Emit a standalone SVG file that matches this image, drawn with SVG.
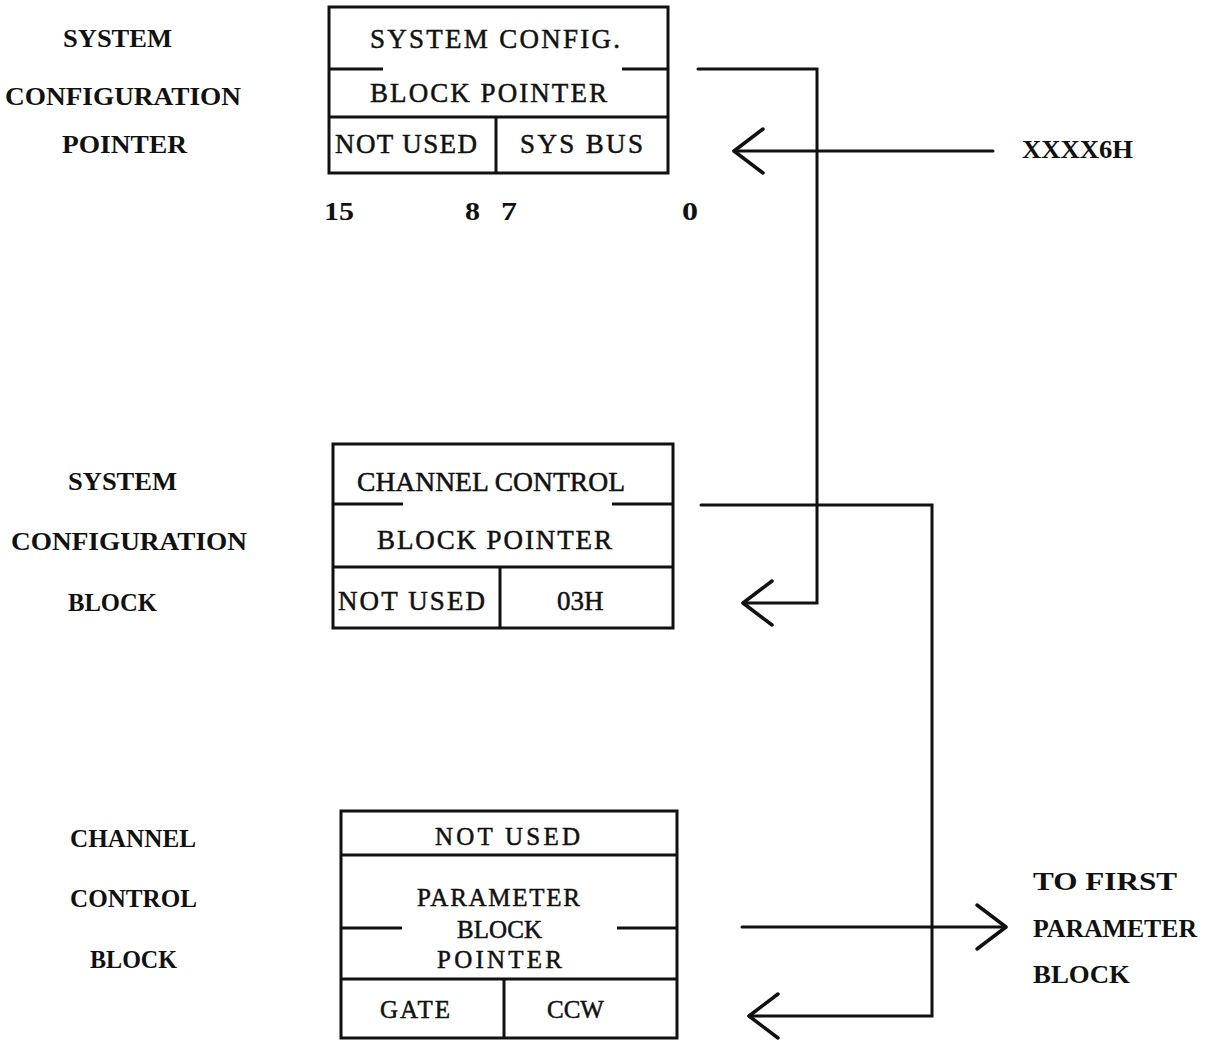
<svg xmlns="http://www.w3.org/2000/svg" width="1207" height="1047" viewBox="0 0 1207 1047">
<style>
.box{fill:none;stroke:#111;stroke-width:3}
.ln{fill:none;stroke:#111;stroke-width:3;stroke-linecap:round;stroke-linejoin:miter}
.bt{font-family:"Liberation Serif","DejaVu Serif",serif;font-size:27px;fill:#111;stroke:#111;stroke-width:0.5}
.bt3{font-family:"Liberation Serif","DejaVu Serif",serif;font-size:25px;fill:#111;stroke:#111;stroke-width:0.5}
.lb{font-family:"Liberation Serif","DejaVu Serif",serif;font-size:26px;font-weight:bold;fill:#111}
</style>
<defs>
<marker id="ah" viewBox="-34 -26 38 52" markerWidth="38" markerHeight="52" refX="0" refY="0" orient="auto" markerUnits="userSpaceOnUse">
<path d="M-29,-22 L0,0 L-29,22" fill="none" stroke="#111" stroke-width="3.5" stroke-linecap="round" stroke-linejoin="round"/>
</marker>
</defs>
<rect width="1207" height="1047" fill="#fff"/>

<g id="labels-left">
<text class="lb" x="63" y="47" textLength="109" lengthAdjust="spacingAndGlyphs">SYSTEM</text>
<text class="lb" x="5" y="105" textLength="236" lengthAdjust="spacingAndGlyphs">CONFIGURATION</text>
<text class="lb" x="62" y="153" textLength="125" lengthAdjust="spacingAndGlyphs">POINTER</text>
<text class="lb" x="68" y="490" textLength="109" lengthAdjust="spacingAndGlyphs">SYSTEM</text>
<text class="lb" x="11" y="550" textLength="236" lengthAdjust="spacingAndGlyphs">CONFIGURATION</text>
<text class="lb" x="68" y="611" textLength="89" lengthAdjust="spacingAndGlyphs">BLOCK</text>
<text class="lb" x="70" y="847" textLength="126" lengthAdjust="spacingAndGlyphs">CHANNEL</text>
<text class="lb" x="70" y="907" textLength="127" lengthAdjust="spacingAndGlyphs">CONTROL</text>
<text class="lb" x="90" y="968" textLength="87" lengthAdjust="spacingAndGlyphs">BLOCK</text>
</g>

<g id="node-scp">
<rect class="box" x="329" y="7" width="339" height="166"/>
<line class="box" x1="329" y1="117" x2="668" y2="117"/>
<line class="box" x1="496" y1="117" x2="496" y2="173"/>
<line class="box" x1="329" y1="69" x2="383" y2="69"/>
<line class="box" x1="622" y1="69" x2="668" y2="69"/>
<text class="bt" x="370" y="48" textLength="250" lengthAdjust="spacing">SYSTEM CONFIG.</text>
<text class="bt" x="370" y="102" textLength="237" lengthAdjust="spacing">BLOCK POINTER</text>
<text class="bt" x="335" y="153" textLength="142" lengthAdjust="spacing">NOT USED</text>
<text class="bt" x="520" y="153" textLength="123" lengthAdjust="spacing">SYS BUS</text>
<text class="lb" x="324" y="220" textLength="30" lengthAdjust="spacingAndGlyphs">15</text>
<text class="lb" x="465" y="220" textLength="15" lengthAdjust="spacingAndGlyphs">8</text>
<text class="lb" x="501" y="220" textLength="16" lengthAdjust="spacingAndGlyphs">7</text>
<text class="lb" x="682" y="220" textLength="16" lengthAdjust="spacingAndGlyphs">0</text>
</g>

<g id="node-scb">
<rect class="box" x="333" y="444" width="340" height="184"/>
<line class="box" x1="333" y1="567" x2="673" y2="567"/>
<line class="box" x1="500" y1="567" x2="500" y2="628"/>
<line class="box" x1="333" y1="504" x2="403" y2="504"/>
<line class="box" x1="612" y1="504" x2="673" y2="504"/>
<text class="bt" x="357" y="491" textLength="268" lengthAdjust="spacingAndGlyphs">CHANNEL CONTROL</text>
<text class="bt" x="377" y="549" textLength="235" lengthAdjust="spacing">BLOCK POINTER</text>
<text class="bt" x="338" y="610" textLength="147" lengthAdjust="spacing">NOT USED</text>
<text class="bt" x="557" y="610">03H</text>
</g>

<g id="node-ccb">
<rect class="box" x="341" y="811" width="336" height="227"/>
<line class="box" x1="341" y1="855" x2="677" y2="855"/>
<line class="box" x1="341" y1="979" x2="677" y2="979"/>
<line class="box" x1="504" y1="979" x2="504" y2="1038"/>
<line class="box" x1="341" y1="928" x2="402" y2="928"/>
<line class="box" x1="617" y1="928" x2="677" y2="928"/>
<text class="bt3" x="435" y="845" textLength="145" lengthAdjust="spacing">NOT USED</text>
<text class="bt3" x="417" y="906" textLength="163" lengthAdjust="spacing">PARAMETER</text>
<text class="bt3" x="457" y="938" textLength="85" lengthAdjust="spacing">BLOCK</text>
<text class="bt3" x="437" y="968" textLength="125" lengthAdjust="spacing">POINTER</text>
<text class="bt3" x="380" y="1018" textLength="70" lengthAdjust="spacing">GATE</text>
<text class="bt3" x="547" y="1018">CCW</text>
</g>

<g id="labels-right">
<text class="lb" x="1022" y="158" textLength="111" lengthAdjust="spacingAndGlyphs">XXXX6H</text>
<text class="lb" x="1033" y="890" textLength="144" lengthAdjust="spacingAndGlyphs">TO FIRST</text>
<text class="lb" x="1033" y="937" textLength="164" lengthAdjust="spacingAndGlyphs">PARAMETER</text>
<text class="lb" x="1033" y="983" textLength="97" lengthAdjust="spacingAndGlyphs">BLOCK</text>
</g>

<g id="connectors">
<path class="ln" d="M698,69 H817 V603 H743" marker-end="url(#ah)"/>
<path class="ln" d="M993,151 H734" marker-end="url(#ah)"/>
<path class="ln" d="M701,505 H932 V1016 H749" marker-end="url(#ah)"/>
<path class="ln" d="M742,927 H1006" marker-end="url(#ah)"/>
</g>
</svg>
